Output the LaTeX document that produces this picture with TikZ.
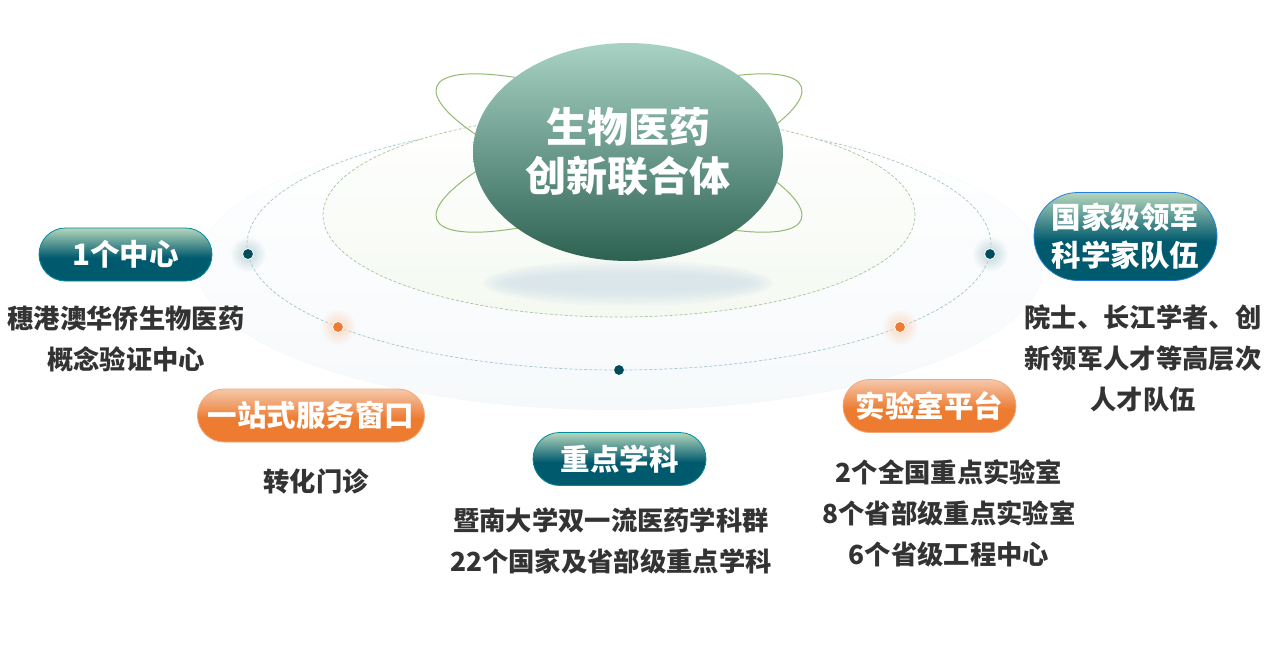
\documentclass[tikz,border=0pt]{standalone}
\usepackage{fontspec}
\setmainfont{Noto Sans CJK SC}
\usetikzlibrary{shapes.geometric,shapes.misc,fadings}
\definecolor{tealdark}{HTML}{005A6E}
\definecolor{tealtop}{HTML}{B4D6BC}
\definecolor{orangedark}{HTML}{ED7B30}
\definecolor{orangetop}{HTML}{F5C8AC}
\definecolor{bodygray}{HTML}{333333}
\definecolor{centretop}{HTML}{A8D2C4}
\definecolor{centrebottom}{HTML}{2D6253}
\definecolor{outerbottom}{HTML}{F6F9FB}
\definecolor{outerline}{HTML}{E6EEF5}
\definecolor{midline}{HTML}{A6C4CC}
\definecolor{innerbottom}{HTML}{F4F9F1}
\definecolor{innerline}{HTML}{A9C69B}
\definecolor{orbitline}{HTML}{93B972}
\definecolor{shadowblue}{HTML}{D6E3EB}
\pgfdeclareverticalshading{tealpill}{100bp}{color(0bp)=(tealdark); color(47bp)=(tealdark); color(75bp)=(tealtop); color(100bp)=(tealtop)}
\pgfdeclareverticalshading{orangepill}{100bp}{color(0bp)=(orangedark); color(47bp)=(orangedark); color(75bp)=(orangetop); color(100bp)=(orangetop)}
\tikzfading[name=glowfade, inner color=transparent!0, outer color=transparent!100]
\tikzset{
  pillbox/.style={rounded rectangle,inner sep=0pt,text=white,font=\fontsize{29.5}{38}\selectfont\bfseries,align=center},
  tealbox/.style={pillbox,shading=tealpill,draw=tealdark!70!cyan,line width=.8pt},
  orangebox/.style={pillbox,shading=orangepill,draw=orangetop!60!orangedark,line width=.8pt},
  bodytext/.style={text=bodygray,font=\fontsize{26.3}{41}\selectfont\bfseries,align=center,inner sep=0pt},
  ring/.style={ellipse,inner sep=0pt},
  orbit/.style={draw=orbitline,line width=1pt},
  shadowpart/.style={ellipse,inner sep=0pt,fill=shadowblue,fill opacity=.14},
  glow/.style={circle,inner sep=0pt,minimum size=36pt,path fading=glowfade},
  tealdot/.style={circle,inner sep=0pt,minimum size=11pt,fill=tealdark!85!black,draw=white,line width=.8pt},
  orangedot/.style={circle,inner sep=0pt,minimum size=11pt,fill=orangedark,draw=white,line width=.8pt}
}
\begin{document}
\begin{tikzpicture}[x=1pt,y=-1pt]
\useasboundingbox (0,0) rectangle (1269,645);
\begin{scope}
\node[ring,minimum width=846pt,minimum height=288pt,top color=white,bottom color=outerbottom,draw=outerline,densely dotted] (outer) at (620,266) {};
\node[ring,minimum width=744pt,minimum height=250pt,draw=midline,densely dashed,line width=.7pt] (middle) at (619,245) {};
\node[ring,minimum width=592pt,minimum height=204pt,top color=white,bottom color=innerbottom,draw=innerline,densely dashed,line width=.7pt] (inner) at (619,215) {};
\end{scope}
% soft shadow under the centre
\foreach \w/\h in {290/46,284/42,278/38,272/34,266/30,260/27,254/24,248/21,240/18,232/15}
  \node[shadowpart,minimum width=\w pt,minimum height=\h pt] (shadow\w) at (628,283) {};
% orbits behind the centre
\draw[orbit,rotate around={20:(619,153)}] (619,153) ellipse [x radius=194,y radius=46];
\draw[orbit,rotate around={-20:(619,153)}] (619,153) ellipse [x radius=194,y radius=46];
\node[ellipse,inner sep=0pt,minimum width=310pt,minimum height=218pt,top color=centretop,bottom color=centrebottom,text=white,font=\fontsize{41}{49}\selectfont\bfseries,align=center] (centre) at (628,152) {生物医药\\创新联合体};
\begin{scope}
\node[glow,fill=tealdark!25!white] (g1) at (248,254) {};
\node[glow,fill=tealdark!25!white] (g2) at (990,254) {};
\node[glow,fill=orangedark!30!white] (g3) at (338,327) {};
\node[glow,fill=orangedark!30!white] (g4) at (900,327) {};
\node[tealdot] (d1) at (248,254) {};
\node[tealdot] (d2) at (990,254) {};
\node[tealdot] (d3) at (619,370) {};
\node[orangedot] (d4) at (338,327) {};
\node[orangedot] (d5) at (900,327) {};
\end{scope}
\begin{scope}
\node[tealbox,minimum width=173pt,minimum height=53pt] (center1) at (125.5,254.5) {1个中心};
\node[orangebox,minimum width=227pt,minimum height=53pt] (window) at (311,415.5) {一站式服务窗口};
\node[tealbox,minimum width=173pt,minimum height=53pt] (subject) at (619.5,459) {重点学科};
\node[orangebox,minimum width=173pt,minimum height=53pt] (lab) at (929.5,406) {实验室平台};
\node[tealbox,draw=blue!50!cyan!70!gray,minimum width=183pt,minimum height=88pt] (team) at (1125.5,236.5) {国家级领军\\科学家队伍};
\end{scope}
\begin{scope}
\node[bodytext] (t1) at (126,339) {穗港澳华侨生物医药\\概念验证中心};
\node[bodytext] (t2) at (316,481) {转化门诊};
\node[bodytext] (t3) at (611,540.5) {暨南大学双一流医药学科群\\22个国家及省部级重点学科};
\node[bodytext] (t4) at (949,513) {2个全国重点实验室\\8个省部级重点实验室\\6个省级工程中心};
\node[bodytext] (t5) at (1143,358) {院士、长江学者、创\\新领军人才等高层次\\人才队伍};
\end{scope}
\end{tikzpicture}
\end{document}
